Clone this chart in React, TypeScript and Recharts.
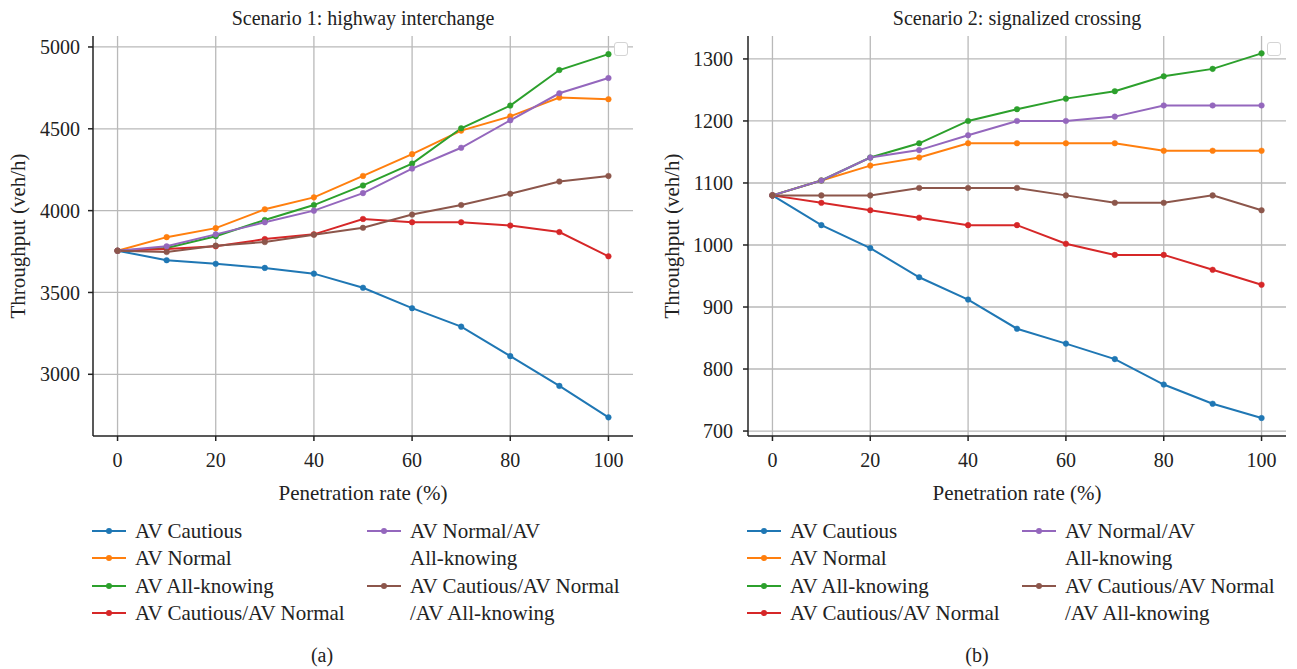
import React from "react";
import { LineChart, Line, XAxis, YAxis, CartesianGrid } from "recharts";

const rates = [0, 10, 20, 30, 40, 50, 60, 70, 80, 90, 100];
const xTicks = [0, 20, 40, 60, 80, 100];

const seriesNames = [
  "AV Cautious",
  "AV Normal",
  "AV All-knowing",
  "AV Cautious/AV Normal",
  "AV Normal/AV All-knowing",
  "AV Cautious/AV Normal/AV All-knowing",
];
const colors = ["#1f77b4", "#ff7f0e", "#2ca02c", "#d62728", "#9467bd", "#8c564b"];

// Scenario 1: highway interchange
const s1Cautious = [3755, 3697, 3675, 3650, 3615, 3529, 3404, 3291, 3111, 2929, 2737];
const s1Normal = [3755, 3838, 3893, 4008, 4081, 4212, 4345, 4489, 4576, 4691, 4681];
const s1AllKnowing = [3755, 3772, 3844, 3943, 4034, 4154, 4287, 4503, 4642, 4859, 4956];
const s1CautiousNormal = [3755, 3766, 3782, 3826, 3855, 3949, 3929, 3929, 3909, 3869, 3721];
const s1NormalAll = [3755, 3782, 3855, 3929, 4000, 4107, 4257, 4384, 4552, 4717, 4810];
const s1AllThree = [3755, 3747, 3786, 3808, 3853, 3895, 3976, 4034, 4103, 4178, 4212];
const s1YTicks = [3000, 3500, 4000, 4500, 5000];

// Scenario 2: signalized crossing
const s2Cautious = [1080, 1032, 995, 948, 912, 865, 841, 816, 775, 744, 721];
const s2Normal = [1080, 1104, 1128, 1141, 1164, 1164, 1164, 1164, 1152, 1152, 1152];
const s2AllKnowing = [1080, 1104, 1141, 1164, 1200, 1219, 1236, 1248, 1272, 1284, 1309];
const s2CautiousNormal = [1080, 1068, 1056, 1044, 1032, 1032, 1002, 984, 984, 960, 936];
const s2NormalAll = [1080, 1104, 1141, 1153, 1177, 1200, 1200, 1207, 1225, 1225, 1225];
const s2AllThree = [1080, 1080, 1080, 1092, 1092, 1092, 1080, 1068, 1068, 1080, 1056];
const s2YTicks = [700, 800, 900, 1000, 1100, 1200, 1300];

const legendLeft = [
  ["AV Cautious"],
  ["AV Normal"],
  ["AV All-knowing"],
  ["AV Cautious/AV Normal"],
];
const legendRight = [
  ["AV Normal/AV", "All-knowing"],
  ["AV Cautious/AV Normal", "/AV All-knowing"],
];

const FONT = "'Liberation Serif', 'DejaVu Serif', serif";

function buildRows(series: number[][]) {
  return rates.map((r, i) => {
    const row: Record<string, number> = { rate: r };
    series.forEach((s, k) => (row["s" + k] = s[i]));
    return row;
  });
}

function Panel({
  left,
  width,
  marginRight,
  series,
  yTicks,
  domain,
  title,
  caption,
  captionX,
  labelOffset,
  yTickMargin,
}: {
  left: number;
  width: number;
  marginRight: number;
  series: number[][];
  yTicks: number[];
  domain: [number, number];
  title: string;
  caption: string;
  captionX: number;
  labelOffset: number;
  yTickMargin: number;
}) {
  const data = buildRows(series);
  const tickStyle = { fontSize: 20, fill: "#222", fontFamily: FONT };
  const plotLeft = left + 93;
  const plotRight = left + width - marginRight;
  return (
    <>
      <div
        style={{
          position: "absolute",
          left: plotLeft,
          width: plotRight - plotLeft,
          top: 6,
          textAlign: "center",
          fontFamily: FONT,
          fontSize: 20,
          lineHeight: "24px",
          color: "#222",
        }}
      >
        {title}
      </div>
      <div style={{ position: "absolute", left, top: 0 }}>
        <LineChart
          width={width}
          height={508}
          data={data}
          style={{ fontFamily: FONT }}
          margin={{ top: 36, right: marginRight, left: 0, bottom: 0 }}
        >
          <CartesianGrid stroke="#b9b9b9" strokeWidth={1.3} horizontalValues={yTicks} verticalValues={xTicks} />
          <XAxis
            dataKey="rate"
            type="number"
            domain={[-5, 105]}
            ticks={xTicks}
            height={72}
            tickSize={5}
            tickMargin={12}
            stroke="#222"
            strokeWidth={1.5}
            tick={tickStyle}
            label={{
              value: "Penetration rate (%)",
              position: "insideBottom",
              offset: 8,
              style: { fontSize: 21, fill: "#222", fontFamily: FONT },
            }}
          />
          <XAxis
            xAxisId="top"
            orientation="top"
            dataKey="rate"
            type="number"
            domain={[-5, 105]}
            height={0}
            tick={false}
            tickLine={false}
            stroke="#222"
            strokeWidth={1.5}
          />
          <YAxis
            type="number"
            domain={domain}
            ticks={yTicks}
            width={93}
            tickSize={5}
            tickMargin={yTickMargin}
            stroke="#222"
            strokeWidth={1.5}
            tick={tickStyle}
            allowDataOverflow
            label={{
              value: "Throughput (veh/h)",
              angle: -90,
              position: "insideLeft",
              offset: labelOffset,
              style: { fontSize: 21, fill: "#222", fontFamily: FONT, textAnchor: "middle" },
            }}
          />
          <YAxis
            yAxisId="right"
            orientation="right"
            type="number"
            domain={domain}
            width={0}
            tick={false}
            tickLine={false}
            stroke="#222"
            strokeWidth={1.5}
          />
          {series.map((_, k) => (
            <Line
              key={k}
              dataKey={"s" + k}
              name={seriesNames[k]}
              stroke={colors[k]}
              strokeWidth={2}
              dot={{ r: 2.8, fill: colors[k], stroke: colors[k], strokeWidth: 0.5 }}
              isAnimationActive={false}
            />
          ))}
        </LineChart>
      </div>
      <div
        style={{
          position: "absolute",
          left: plotRight - 19,
          top: 42,
          width: 12,
          height: 12,
          border: "1.2px solid #d4d4d4",
          borderRadius: 3,
          background: "#fff",
        }}
      />
      <Legend left={left} />
      <div
        style={{
          position: "absolute",
          left: captionX - 30,
          width: 60,
          top: 644,
          textAlign: "center",
          fontFamily: FONT,
          fontSize: 20,
          color: "#222",
        }}
      >
        {caption}
      </div>
    </>
  );
}

function Marker({ color }: { color: string }) {
  return (
    <svg width={34} height={10} style={{ position: "absolute", left: 0, top: 8 }}>
      <line x1={0} y1={5} x2={34} y2={5} stroke={color} strokeWidth={1.8} />
      <circle cx={17} cy={5} r={3} fill={color} />
    </svg>
  );
}

function Legend({ left }: { left: number }) {
  const rowH = 27.3;
  const top = 518;
  const items: React.ReactNode[] = [];
  legendLeft.forEach((lines, i) => {
    items.push(
      <div key={"l" + i} style={{ position: "absolute", left: left + 92, top: top + i * rowH, height: rowH }}>
        <Marker color={colors[i]} />
        <div style={{ position: "absolute", left: 43, top: 0, whiteSpace: "nowrap", lineHeight: rowH + "px" }}>
          {lines[0]}
        </div>
      </div>
    );
  });
  legendRight.forEach((lines, i) => {
    const k = 4 + i;
    items.push(
      <div key={"r" + i} style={{ position: "absolute", left: left + 367, top: top + i * 2 * rowH }}>
        <Marker color={colors[k]} />
        <div style={{ position: "absolute", left: 43, top: 0, whiteSpace: "nowrap", lineHeight: rowH + "px" }}>
          {lines.map((t, j) => (
            <div key={j}>{t}</div>
          ))}
        </div>
      </div>
    );
  });
  return <div style={{ fontFamily: FONT, fontSize: 21, color: "#222" }}>{items}</div>;
}

export default function App() {
  return (
    <div
      style={{
        position: "absolute",
        left: 0,
        top: 0,
        width: 1297,
        height: 669,
        background: "#fff",
        overflow: "hidden",
      }}
    >
      <Panel
        left={0}
        width={648}
        marginRight={15}
        series={[s1Cautious, s1Normal, s1AllKnowing, s1CautiousNormal, s1NormalAll, s1AllThree]}
        yTicks={s1YTicks}
        domain={[2623, 5067]}
        title="Scenario 1: highway interchange"
        caption="(a)"
        captionX={322}
        labelOffset={18}
        yTickMargin={8}
      />
      <Panel
        left={655}
        width={642}
        marginRight={11}
        series={[s2Cautious, s2Normal, s2AllKnowing, s2CautiousNormal, s2NormalAll, s2AllThree]}
        yTicks={s2YTicks}
        domain={[692, 1337]}
        title="Scenario 2: signalized crossing"
        caption="(b)"
        captionX={977}
        labelOffset={17}
        yTickMargin={10}
      />
    </div>
  );
}
